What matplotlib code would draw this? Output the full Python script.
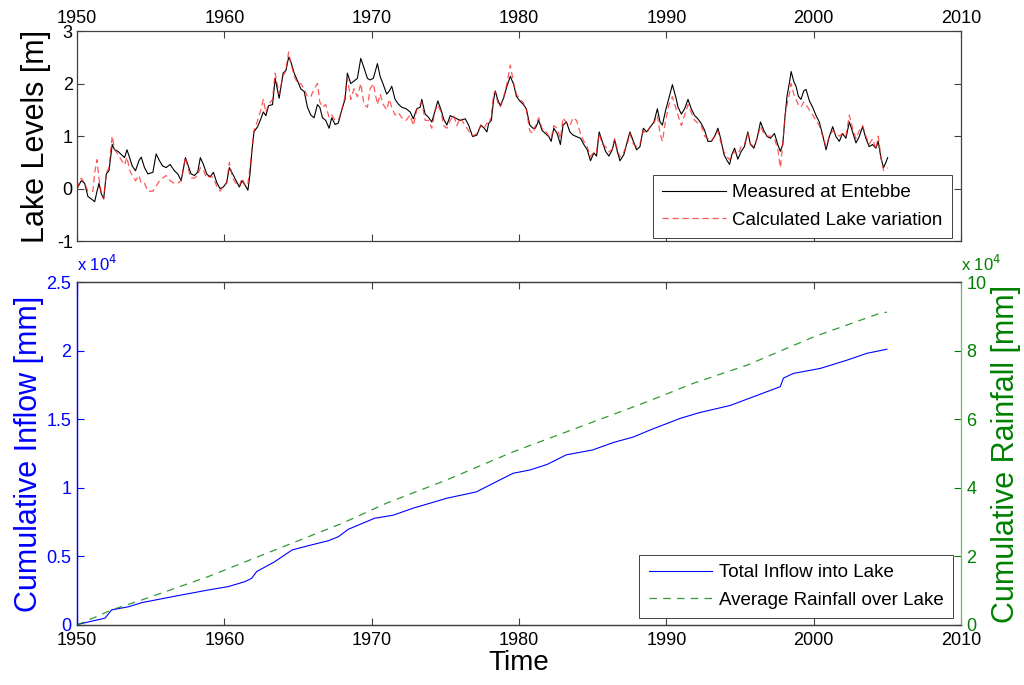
import matplotlib
matplotlib.use("Agg")
import matplotlib.pyplot as plt
from matplotlib.ticker import FuncFormatter

plt.rcParams['font.family'] = ['Liberation Sans', 'DejaVu Sans']
plt.rcParams['axes.unicode_minus'] = False

# ---------------- data: lake levels ----------------
lake_years = [
    1950.00, 1950.29, 1950.52, 1950.74, 1951.08, 1951.20, 1951.35, 1951.49, 1951.65, 1951.81,
    1951.99, 1952.17, 1952.39, 1952.55, 1952.78, 1953.00, 1953.23, 1953.39, 1953.57, 1953.75,
    1953.97, 1954.20, 1954.36, 1954.58, 1954.81, 1955.15, 1955.37, 1955.60, 1955.82, 1956.05,
    1956.32, 1956.61, 1956.84, 1957.07, 1957.36, 1957.52, 1957.74, 1957.97, 1958.19, 1958.37,
    1958.58, 1958.80, 1959.03, 1959.26, 1959.48, 1959.71, 1959.93, 1960.16, 1960.34, 1960.56,
    1960.79, 1961.02, 1961.20, 1961.42, 1961.60, 1961.74, 1961.87, 1962.01, 1962.26, 1962.48,
    1962.64, 1962.82, 1963.00, 1963.27, 1963.45, 1963.72, 1963.99, 1964.18, 1964.36, 1964.51,
    1964.74, 1964.97, 1965.19, 1965.42, 1965.64, 1965.87, 1966.09, 1966.32, 1966.48, 1966.66,
    1966.88, 1967.11, 1967.29, 1967.52, 1967.74, 1967.97, 1968.19, 1968.35, 1968.58, 1968.80,
    1969.03, 1969.26, 1969.48, 1969.71, 1969.89, 1970.11, 1970.39, 1970.57, 1970.79, 1971.02,
    1971.20, 1971.36, 1971.59, 1971.81, 1972.04, 1972.34, 1972.61, 1972.83, 1973.06, 1973.29,
    1973.40, 1973.63, 1973.85, 1974.08, 1974.31, 1974.49, 1974.72, 1974.88, 1975.10, 1975.33,
    1975.56, 1975.78, 1976.01, 1976.35, 1976.58, 1976.85, 1977.14, 1977.41, 1977.64, 1977.82,
    1977.94, 1978.12, 1978.28, 1978.39, 1978.55, 1978.73, 1978.96, 1979.18, 1979.41, 1979.64,
    1979.82, 1980.05, 1980.27, 1980.50, 1980.73, 1980.95, 1981.11, 1981.34, 1981.56, 1981.79,
    1982.02, 1982.18, 1982.36, 1982.59, 1982.81, 1982.99, 1983.22, 1983.45, 1983.67, 1983.90,
    1984.17, 1984.40, 1984.63, 1984.85, 1985.08, 1985.26, 1985.44, 1985.65, 1985.87, 1986.10,
    1986.33, 1986.49, 1986.67, 1986.85, 1987.12, 1987.35, 1987.53, 1987.76, 1987.98, 1988.21,
    1988.44, 1988.66, 1988.93, 1989.16, 1989.39, 1989.57, 1989.73, 1989.95, 1990.18, 1990.41,
    1990.68, 1990.79, 1991.02, 1991.24, 1991.47, 1991.69, 1991.92, 1992.14, 1992.37, 1992.60,
    1992.82, 1993.05, 1993.27, 1993.50, 1993.68, 1993.91, 1994.13, 1994.29, 1994.45, 1994.63,
    1994.85, 1995.08, 1995.30, 1995.53, 1995.71, 1995.94, 1996.16, 1996.39, 1996.61, 1996.84,
    1997.07, 1997.34, 1997.56, 1997.74, 1997.90, 1998.06, 1998.19, 1998.35, 1998.47, 1998.65,
    1998.80, 1998.96, 1999.14, 1999.32, 1999.48, 1999.71, 1999.93, 2000.16, 2000.38, 2000.61,
    2000.84, 2001.06, 2001.29, 2001.51, 2001.74, 2001.96, 2002.19, 2002.42, 2002.64, 2002.87,
    2003.09, 2003.32, 2003.54, 2003.77, 2004.00, 2004.22, 2004.38, 2004.56, 2004.74, 2004.90,
    2005.02,
]

measured = [
    0.00, 0.15, 0.10, -0.15, -0.22, -0.25, -0.06, 0.10, -0.10, -0.19,
    0.28, 0.34, 0.84, 0.74, 0.71, 0.65, 0.59, 0.74, 0.59, 0.43,
    0.34, 0.53, 0.60, 0.40, 0.28, 0.31, 0.66, 0.53, 0.43, 0.40,
    0.46, 0.34, 0.28, 0.15, 0.59, 0.46, 0.28, 0.25, 0.31, 0.59,
    0.46, 0.28, 0.22, 0.31, 0.12, 0.00, 0.03, 0.12, 0.40, 0.28,
    0.15, 0.03, 0.15, 0.06, -0.03, 0.28, 0.71, 1.08, 1.18, 1.33,
    1.46, 1.39, 1.58, 1.60, 2.10, 1.72, 2.20, 2.25, 2.50, 2.42,
    2.20, 2.05, 1.90, 1.85, 1.55, 1.40, 1.35, 1.60, 1.55, 1.35,
    1.30, 1.15, 1.35, 1.22, 1.25, 1.50, 1.70, 2.20, 2.00, 2.05,
    2.10, 2.48, 2.30, 2.10, 2.07, 2.10, 2.38, 2.14, 1.98, 1.80,
    1.86, 1.95, 1.70, 1.61, 1.55, 1.52, 1.46, 1.33, 1.52, 1.55,
    1.70, 1.42, 1.36, 1.27, 1.49, 1.67, 1.49, 1.33, 1.21, 1.39,
    1.36, 1.33, 1.30, 1.33, 1.21, 0.99, 1.02, 1.21, 1.15, 1.08,
    1.24, 1.30, 1.70, 1.86, 1.70, 1.58, 1.73, 1.95, 2.14, 1.98,
    1.76, 1.67, 1.61, 1.52, 1.21, 1.15, 1.15, 1.30, 1.11, 1.05,
    0.99, 0.90, 1.15, 1.05, 0.84, 1.21, 1.27, 1.08, 1.02, 0.99,
    0.96, 0.84, 0.74, 0.53, 0.68, 0.62, 1.08, 0.90, 0.71, 0.62,
    0.74, 0.93, 0.71, 0.53, 0.65, 0.90, 1.08, 0.90, 0.74, 0.80,
    1.15, 1.08, 1.18, 1.27, 1.52, 1.27, 1.21, 1.49, 1.73, 1.98,
    1.70, 1.55, 1.42, 1.52, 1.70, 1.52, 1.39, 1.33, 1.24, 1.11,
    0.90, 0.90, 0.99, 1.15, 0.96, 0.65, 0.53, 0.46, 0.65, 0.77,
    0.56, 0.71, 0.80, 1.08, 0.84, 0.77, 0.96, 1.27, 1.11, 0.99,
    0.96, 1.05, 0.84, 0.71, 0.84, 1.39, 1.76, 2.01, 2.23, 2.04,
    1.95, 1.76, 1.70, 1.86, 1.89, 1.67, 1.55, 1.39, 1.27, 1.02,
    0.74, 0.99, 1.18, 0.99, 0.90, 1.05, 0.96, 1.27, 1.08, 0.87,
    0.99, 1.18, 0.96, 0.80, 0.84, 0.77, 0.90, 0.59, 0.40, 0.50,
    0.59,
]

calculated = [
    0.00, 0.20, 0.10, -0.05, -0.05, 0.30, 0.55, 0.20, -0.10, -0.20,
    0.30, 0.40, 1.00, 0.75, 0.65, 0.55, 0.45, 0.60, 0.35, 0.25,
    0.15, 0.25, 0.10, 0.10, -0.05, -0.05, 0.05, 0.15, 0.20, 0.25,
    0.15, 0.10, 0.10, 0.15, 0.60, 0.40, 0.20, 0.20, 0.25, 0.40,
    0.35, 0.20, 0.25, 0.20, 0.05, -0.05, 0.05, 0.10, 0.50, 0.20,
    0.10, 0.05, 0.20, 0.05, 0.10, 0.40, 0.75, 1.10, 1.30, 1.50,
    1.70, 1.45, 1.60, 1.70, 2.20, 1.80, 2.15, 2.25, 2.60, 2.40,
    2.15, 2.00, 2.00, 1.90, 1.75, 1.75, 1.90, 2.00, 1.65, 1.55,
    1.60, 1.35, 1.40, 1.30, 1.30, 1.50, 1.75, 2.10, 1.70, 1.90,
    1.75, 2.00, 1.60, 1.55, 1.90, 2.00, 1.60, 1.80, 1.60, 1.50,
    1.70, 1.55, 1.40, 1.45, 1.35, 1.30, 1.40, 1.20, 1.50, 1.60,
    1.65, 1.30, 1.30, 1.15, 1.50, 1.60, 1.45, 1.20, 1.15, 1.30,
    1.40, 1.20, 1.35, 1.20, 1.10, 1.00, 1.05, 1.20, 1.15, 1.25,
    1.20, 1.40, 1.80, 1.85, 1.65, 1.55, 1.75, 2.00, 2.35, 2.00,
    1.80, 1.70, 1.65, 1.50, 1.10, 1.05, 1.20, 1.35, 1.15, 1.10,
    1.00, 0.95, 1.20, 1.15, 0.95, 1.35, 1.25, 1.20, 1.35, 1.30,
    1.05, 0.90, 0.80, 0.60, 0.70, 0.70, 1.05, 0.85, 0.80, 0.70,
    0.75, 0.95, 0.75, 0.60, 0.70, 0.85, 1.05, 0.85, 0.80, 0.85,
    1.10, 1.05, 1.20, 1.25, 1.40, 1.05, 0.90, 1.30, 1.60, 1.75,
    1.50, 1.40, 1.20, 1.40, 1.60, 1.45, 1.30, 1.25, 1.20, 1.00,
    0.95, 0.90, 1.00, 1.10, 0.90, 0.70, 0.60, 0.55, 0.65, 0.70,
    0.65, 0.80, 0.85, 1.05, 0.85, 0.80, 0.95, 1.20, 1.05, 1.00,
    1.00, 0.95, 0.75, 0.40, 0.85, 1.40, 1.60, 1.80, 2.00, 1.80,
    1.70, 1.60, 1.55, 1.65, 1.60, 1.50, 1.40, 1.30, 1.20, 1.00,
    0.80, 1.00, 1.10, 1.05, 1.00, 1.05, 1.00, 1.40, 1.15, 0.95,
    1.10, 1.20, 1.00, 0.85, 0.95, 0.75, 1.00, 0.60, 0.35, 0.35,
    0.40,
]

# ---------------- data: cumulative series ----------------
inflow_years = [1950.0, 1950.08, 1951.9, 1952.35, 1953.5, 1954.4, 1956.65, 1958.9, 1960.27,
                1961.4, 1961.85, 1962.2, 1963.4, 1964.6, 1965.7, 1967.05, 1967.75, 1968.4,
                1970.2, 1971.45, 1972.8, 1975.1, 1977.1, 1978.25, 1979.6, 1980.75, 1981.9,
                1983.2, 1985.0, 1986.4, 1987.75, 1989.1, 1990.2, 1990.94, 1992.25, 1994.33,
                1997.73, 1997.95, 1998.63, 2000.44, 2002.25, 2003.6, 2004.97]
inflow_mm = [0, 50, 500, 1100, 1330, 1630, 2100, 2550, 2800,
             3160, 3400, 3900, 4600, 5470, 5780, 6140, 6440, 6970,
             7780, 8000, 8510, 9240, 9700, 10330, 11060, 11300, 11700,
             12400, 12760, 13300, 13700, 14300, 14750, 15060, 15480, 16000,
             17370, 18000, 18340, 18700, 19300, 19800, 20100]

rain_years = [1950.0, 1950.08, 1952.35, 1954.4, 1958.9, 1963.45, 1967.97, 1971.0, 1975.1,
              1979.6, 1984.15, 1988.7, 1991.85, 1995.5, 2000.0, 2004.5, 2004.97]
rain_mm = [0, 100, 4400, 7300, 14100, 21900, 29600, 35500, 42300,
           50500, 57800, 65100, 70500, 75800, 84000, 90900, 91200]

x_ticks = [1950, 1960, 1970, 1980, 1990, 2000, 2010]

BLUE = '#0000ff'
GREEN = '#008000'
AXC = '#404040'

LEG_KW = dict(fontsize=13.5, frameon=True, fancybox=False, edgecolor='#404040',
              handlelength=3.4, borderpad=0.5, labelspacing=0.55, handletextpad=0.35,
              borderaxespad=0.0, framealpha=1)

fig = plt.figure(figsize=(10.24, 6.85), dpi=100)

# ---------------- top panel ----------------
ax1 = fig.add_axes([0.0752, 0.648, 0.8633, 0.3066])
ax1.plot(lake_years, measured, color='black', lw=0.8, label='Measured at Entebbe')
ax1.plot(lake_years, calculated, color='#ff2020', lw=0.9, alpha=0.75,
         linestyle=(0, (5, 3)), label='Calculated Lake variation')
ax1.set_xlim(1950, 2010)
ax1.set_ylim(-1, 3)
ax1.set_xticks(x_ticks)
ax1.set_yticks([-1, 0, 1, 2, 3])
ax1.xaxis.tick_top()
ax1.tick_params(axis='both', which='both', direction='in', length=5, width=0.8,
                top=True, bottom=True, left=True, right=True,
                labeltop=True, labelbottom=False, labelsize=13, colors='black',
                pad=3)
ax1.tick_params(axis='both', color=AXC)
for s in ax1.spines.values():
    s.set_color(AXC)
    s.set_linewidth(0.9)
ax1.set_ylabel('Lake Levels [m]', fontsize=22, labelpad=4)
leg1 = ax1.legend(loc='lower right', bbox_to_anchor=(0.9898, 0.0143), **LEG_KW)
leg1.get_frame().set_linewidth(0.7)

# ---------------- bottom panel ----------------
ax2 = fig.add_axes([0.0752, 0.0876, 0.8633, 0.5007])
ax3 = ax2.twinx()
l1, = ax2.plot(inflow_years, inflow_mm, color=BLUE, lw=0.8, label='Total Inflow into Lake')
l2, = ax3.plot(rain_years, rain_mm, color=GREEN, lw=0.9, alpha=0.8,
               linestyle=(0, (6, 5)), label='Average Rainfall over Lake')
ax2.set_xlim(1950, 2010)
ax2.set_ylim(0, 25000)
ax3.set_ylim(0, 100000)
ax2.set_xticks(x_ticks)
ax2.set_yticks([0, 5000, 10000, 15000, 20000, 25000])
ax3.set_yticks([0, 20000, 40000, 60000, 80000, 100000])
ax2.yaxis.set_major_formatter(FuncFormatter(lambda v, p: f'{v/1e4:g}'))
ax3.yaxis.set_major_formatter(FuncFormatter(lambda v, p: f'{v/1e4:g}'))
ax2.tick_params(axis='x', direction='in', length=5, width=0.8, top=True, bottom=True,
                labelsize=13, color=AXC, pad=5)
ax2.tick_params(axis='y', direction='in', length=5, width=0.8, left=True, right=False,
                labelsize=13, colors=BLUE, pad=4)
ax3.tick_params(axis='y', direction='in', length=5, width=0.8, right=True,
                labelsize=13, colors=GREEN, pad=4)
for name in ['top', 'bottom']:
    ax2.spines[name].set_color(AXC)
    ax3.spines[name].set_color(AXC)
ax3.spines['left'].set_color(BLUE)
ax2.spines['left'].set_color(BLUE)
ax3.spines['right'].set_color('#66bb66')
ax2.spines['right'].set_visible(False)
for s in list(ax2.spines.values()) + list(ax3.spines.values()):
    s.set_linewidth(0.9)

ax2.set_xlabel('Time', fontsize=20, labelpad=1)
ax2.set_ylabel('Cumulative Inflow [mm]', fontsize=22, color=BLUE, labelpad=1.5)
ax3.set_ylabel('Cumulative Rainfall [mm]', fontsize=22, color=GREEN, labelpad=3)

ax2.text(0.0, 1.022, r'x 10$^{4}$', transform=ax2.transAxes, color=BLUE,
         fontsize=12, ha='left', va='bottom')
ax3.text(1.0, 1.022, r'x 10$^{4}$', transform=ax3.transAxes, color=GREEN,
         fontsize=12, ha='left', va='bottom')

leg2 = ax3.legend([l1, l2], ['Total Inflow into Lake', 'Average Rainfall over Lake'],
                  loc='lower right', bbox_to_anchor=(0.991, 0.0204), **LEG_KW)
leg2.get_frame().set_linewidth(0.7)

fig.savefig('out.png', dpi=100)
